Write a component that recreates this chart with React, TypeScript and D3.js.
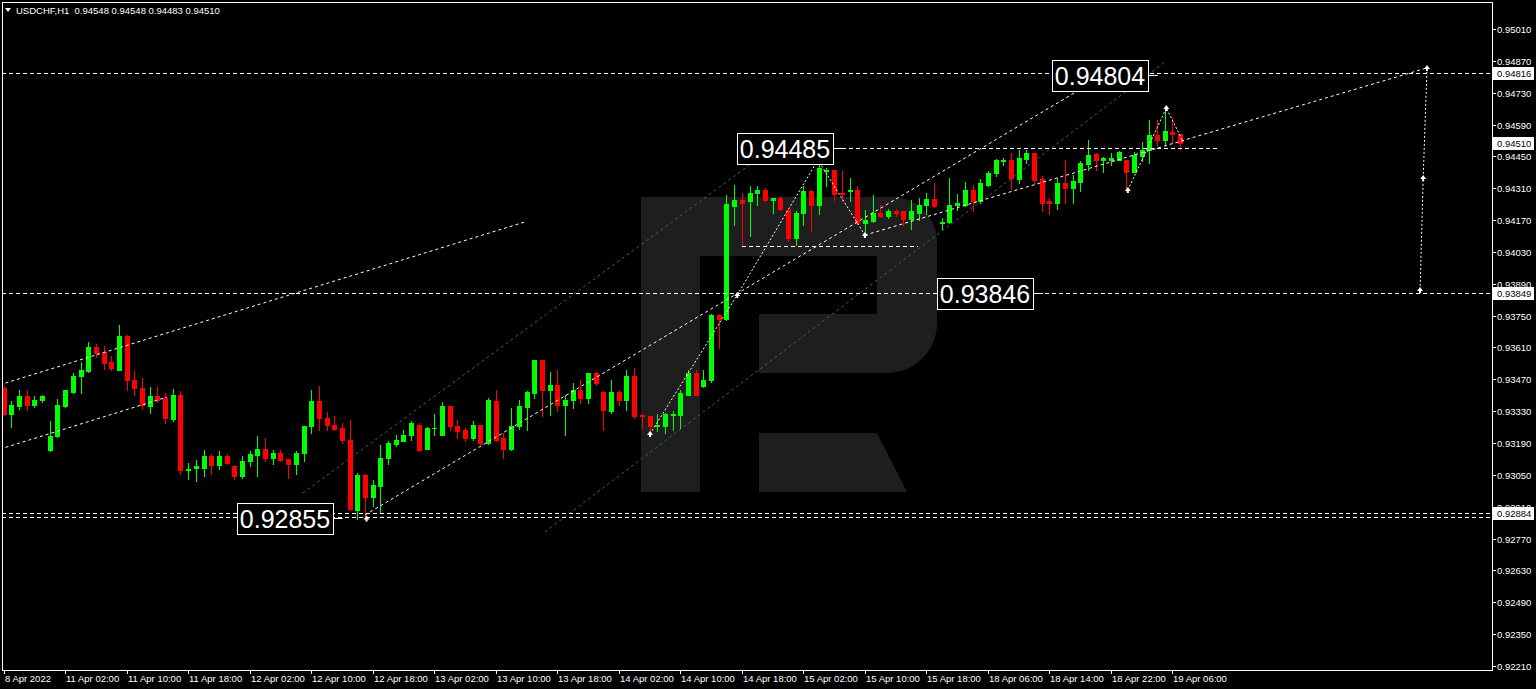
import React from "react";
import * as d3 from "d3";

// ---------- DATA (USDCHF, H1) ----------
const opens = [0.93432,0.93318,0.93355,0.93397,0.93357,0.93379,0.93159,0.93219,0.93353,0.93416,0.93485,0.93507,0.93612,0.93592,0.93548,0.93513,0.93661,0.93469,0.93434,0.93355,0.93399,0.93386,0.93295,0.93403,0.93073,0.93082,0.93082,0.93135,0.93093,0.93131,0.93089,0.93043,0.93109,0.93137,0.93166,0.93126,0.93148,0.93118,0.93100,0.93148,0.93263,0.93375,0.93302,0.93271,0.93254,0.93203,0.92896,0.93049,0.92951,0.93003,0.93126,0.93188,0.93201,0.93225,0.93271,0.93166,0.93255,0.93227,0.93353,0.93265,0.93247,0.93210,0.93269,0.93192,0.93375,0.93214,0.93166,0.93263,0.93350,0.93412,0.93553,0.93421,0.93445,0.93357,0.93379,0.93423,0.93390,0.93496,0.93416,0.93331,0.93416,0.93379,0.93485,0.93315,0.93309,0.93265,0.93265,0.93313,0.93313,0.93403,0.93500,0.93439,0.93465,0.93753,0.93734,0.94232,0.94258,0.94252,0.94289,0.94304,0.94258,0.94269,0.94216,0.94093,0.94201,0.94296,0.94236,0.94388,0.94390,0.94291,0.94296,0.94302,0.94159,0.94164,0.94203,0.94188,0.94208,0.94208,0.94174,0.94203,0.94236,0.94261,0.94158,0.94162,0.94236,0.94236,0.94302,0.94252,0.94324,0.94375,0.94430,0.94432,0.94349,0.94439,0.94463,0.94349,0.94252,0.94243,0.94331,0.94313,0.94339,0.94417,0.94460,0.94434,0.94436,0.94436,0.94432,0.94383,0.94452,0.94478,0.94544,0.94522,0.94558,0.94548];
const highs = [0.93441,0.93375,0.93423,0.93423,0.93397,0.93401,0.93287,0.93383,0.93423,0.93498,0.93548,0.93636,0.93625,0.93617,0.93573,0.93709,0.93665,0.93507,0.93474,0.93436,0.93436,0.93408,0.93427,0.93419,0.93104,0.93115,0.93159,0.93142,0.93155,0.93142,0.93093,0.93131,0.93155,0.93219,0.93214,0.93159,0.93159,0.93122,0.93155,0.93265,0.93423,0.93441,0.93326,0.93311,0.93276,0.93291,0.93060,0.93054,0.93027,0.93181,0.93199,0.93227,0.93249,0.93285,0.93276,0.93260,0.93318,0.93370,0.93355,0.93293,0.93258,0.93285,0.93271,0.93386,0.93421,0.93232,0.93342,0.93381,0.93419,0.93555,0.93555,0.93504,0.93513,0.93401,0.93452,0.93467,0.93498,0.93504,0.93418,0.93469,0.93423,0.93513,0.93522,0.93318,0.93311,0.93318,0.93324,0.93333,0.93423,0.93509,0.93509,0.93513,0.93759,0.93757,0.94280,0.94324,0.94287,0.94318,0.94320,0.94309,0.94269,0.94274,0.94218,0.94208,0.94320,0.94302,0.94432,0.94401,0.94392,0.94387,0.94357,0.94320,0.94214,0.94280,0.94236,0.94218,0.94218,0.94212,0.94258,0.94265,0.94291,0.94331,0.94181,0.94353,0.94284,0.94337,0.94324,0.94349,0.94387,0.94440,0.94441,0.94463,0.94480,0.94478,0.94467,0.94364,0.94269,0.94353,0.94432,0.94368,0.94428,0.94524,0.94467,0.94446,0.94467,0.94475,0.94434,0.94471,0.94513,0.94612,0.94608,0.94656,0.94619,0.94548];
const lows = [0.93313,0.93260,0.93340,0.93335,0.93348,0.93370,0.93155,0.93216,0.93348,0.93410,0.93410,0.93504,0.93570,0.93515,0.93511,0.93509,0.93423,0.93401,0.93340,0.93324,0.93372,0.93276,0.93285,0.93056,0.93032,0.93023,0.93047,0.93052,0.93074,0.93100,0.93034,0.93038,0.93089,0.93043,0.93113,0.93100,0.93109,0.93038,0.93056,0.93109,0.93236,0.93249,0.93247,0.93249,0.93192,0.92896,0.92854,0.92854,0.92913,0.92885,0.93098,0.93178,0.93197,0.93203,0.93155,0.93162,0.93225,0.93225,0.93249,0.93210,0.93201,0.93203,0.93188,0.93188,0.93199,0.93126,0.93159,0.93252,0.93249,0.93386,0.93309,0.93313,0.93333,0.93225,0.93342,0.93364,0.93368,0.93445,0.93249,0.93324,0.93357,0.93337,0.93298,0.93258,0.93232,0.93245,0.93236,0.93249,0.93254,0.93401,0.93401,0.93436,0.93460,0.93606,0.93733,0.94148,0.94054,0.94098,0.94236,0.94256,0.94203,0.94215,0.94076,0.94060,0.94148,0.94124,0.94197,0.94318,0.94258,0.94254,0.94252,0.94155,0.94098,0.94162,0.94185,0.94181,0.94188,0.94148,0.94133,0.94170,0.94197,0.94228,0.94129,0.94159,0.94214,0.94232,0.94212,0.94247,0.94320,0.94366,0.94412,0.94305,0.94335,0.94419,0.94335,0.94208,0.94197,0.94218,0.94247,0.94247,0.94299,0.94392,0.94392,0.94383,0.94412,0.94432,0.94296,0.94381,0.94428,0.94419,0.94494,0.94500,0.94510,0.94483];
const closes = [0.93318,0.93357,0.93399,0.93357,0.93381,0.93399,0.93221,0.93357,0.93421,0.93485,0.93509,0.93612,0.93588,0.93544,0.93518,0.93661,0.93467,0.93434,0.93357,0.93399,0.93379,0.93298,0.93403,0.93071,0.93078,0.93087,0.93135,0.93093,0.93131,0.93104,0.93045,0.93111,0.93142,0.93164,0.93126,0.93148,0.93115,0.93100,0.93148,0.93263,0.93375,0.93298,0.93269,0.93252,0.93203,0.92900,0.93049,0.92951,0.93005,0.93126,0.93192,0.93205,0.93227,0.93276,0.93159,0.93258,0.93258,0.93353,0.93263,0.93245,0.93210,0.93269,0.93192,0.93379,0.93203,0.93166,0.93265,0.93355,0.93416,0.93553,0.93421,0.93445,0.93357,0.93381,0.93423,0.93390,0.93496,0.93452,0.93335,0.93416,0.93379,0.93485,0.93309,0.93310,0.93263,0.93269,0.93318,0.93318,0.93408,0.93496,0.93403,0.93467,0.93753,0.93737,0.94241,0.94258,0.94247,0.94291,0.94304,0.94258,0.94266,0.94219,0.94093,0.94203,0.94296,0.94236,0.94401,0.94392,0.94284,0.94284,0.94302,0.94159,0.94170,0.94203,0.94188,0.94208,0.94201,0.94177,0.94212,0.94236,0.94261,0.94232,0.94163,0.94236,0.94243,0.94302,0.94252,0.94335,0.94375,0.94434,0.94434,0.94357,0.94441,0.94463,0.94346,0.94247,0.94243,0.94331,0.94313,0.94342,0.94419,0.94456,0.94434,0.94441,0.94441,0.94471,0.94381,0.94456,0.94478,0.94544,0.94522,0.94561,0.94548,0.94510];

const timeTickIndex = [0,8,16,24,32,40,48,56,64,72,80,88,96,104,112,120,128,136,144,152];
const timeTickLabels = ["8 Apr 2022","11 Apr 02:00","11 Apr 10:00","11 Apr 18:00","12 Apr 02:00","12 Apr 10:00","12 Apr 18:00","13 Apr 02:00","13 Apr 10:00","13 Apr 18:00","14 Apr 02:00","14 Apr 10:00","14 Apr 18:00","15 Apr 02:00","15 Apr 10:00","15 Apr 18:00","18 Apr 06:00","18 Apr 14:00","18 Apr 22:00","19 Apr 06:00"];
const priceTicks = [0.92210,0.92350,0.92490,0.92630,0.92770,0.92910,0.93050,0.93190,0.93330,0.93470,0.93610,0.93750,0.93890,0.94030,0.94170,0.94310,0.94450,0.94590,0.94730,0.94870,0.95010];
const axisMarks = [0.94816, 0.94510, 0.93849, 0.92884];
const levelLines = [0.94816, 0.93849, 0.92884, 0.92867];

// annotations in (bar index, price)
const shortLevels = [
  { a: 109.0, b: 158.2, p: 0.94485 },
  { a: 96.0, b: 118.9, p: 0.94054 },
];
const trendWhite = [
  [[-0.5, 0.93446], [67.8, 0.94162]],
  [[-0.5, 0.93163], [21.25, 0.93392]],
  [[47.0, 0.92874], [145.8, 0.94861]],
  [[112.0, 0.94104], [185.1, 0.94839]],
];
const trendDim = [
  [[38.9, 0.92970], [102.3, 0.94544]],
  [[70.4, 0.92799], [151.0, 0.94865]],
];
const wave1 = [[84.06, 0.93230], [95.4, 0.93841], [105.9, 0.94434], [112.0, 0.94104]];
const wave2 = [[146.2, 0.94302], [151.2, 0.94663], [153.4, 0.94513]];
const wave3 = [[185.1, 0.94839], [184.6, 0.94355], [184.2, 0.93863]];
const markers = [[47.2, 0.92858], [84.06, 0.93230], [95.4, 0.93841], [105.9, 0.94434], [112.0, 0.94104], [146.2, 0.94302], [151.2, 0.94663], [185.1, 0.94839], [184.6, 0.94355], [184.2, 0.93863]];
const labelBoxes = [
  { i: 44.1, p: 0.92860, t: "0.92855" },
  { i: 109.15, p: 0.94485, t: "0.94485" },
  { i: 135.2, p: 0.93849, t: "0.93846" },
  { i: 150.1, p: 0.94806, t: "0.94804" },
];

const header = "USDCHF,H1  0.94548 0.94548 0.94483 0.94510";

export default function App() {
  const W = 1536, H = 689;
  const L = 2, T = 2, R = 1492, B = 670;
  const x = d3.scaleLinear().domain([0, 153]).range([3.6, 3.6 + 7.69 * 153]);
  const y = d3.scaleLinear().domain([0.92210, 0.95010]).range([666, 29]);
  const font = "'Liberation Sans', Arial, sans-serif";
  const line = d3.line<number[]>().x(d => x(d[0])).y(d => y(d[1]));

  const candles = opens.map((o, i) => {
    const c = closes[i];
    const up = c >= o;
    const col = up ? "#00ff00" : "#ff0000";
    const cx = Math.round(x(i));
    const yt = Math.round(y(Math.max(o, c)));
    const yb = Math.round(y(Math.min(o, c)));
    return (
      <g key={i}>
        <line x1={cx + 0.5} x2={cx + 0.5} y1={Math.round(y(highs[i]))} y2={Math.round(y(lows[i])) + 1} stroke={col} strokeWidth={1} />
        <rect x={cx - 2} y={yt} width={5} height={Math.max(1, yb - yt + 1)} fill={col} />
      </g>
    );
  });

  return (
    <svg width={W} height={H} style={{ display: "block", position: "absolute", left: 0, top: 0, background: "#000" }}>
      <defs>
        <clipPath id="plotclip"><rect x={L} y={T} width={R - L} height={B - T} /></clipPath>
      </defs>
      <rect x={0} y={0} width={W} height={H} fill="#000" />
      <g clipPath="url(#plotclip)">
        {/* watermark */}
        <path d="M641,197 H892 A45,45 0 0 1 937,242 V323 A50,50 0 0 1 887,373 H759 V314 H877 V256 H700 V492 H641 Z" fill="#1e1e1e" />
        <path d="M759,433 H877 L907,492 H759 Z" fill="#1e1e1e" />
        {/* dim trend lines */}
        {trendDim.map((s, k) => (
          <path key={"d" + k} d={line(s) || ""} stroke="#4d5c60" strokeWidth={1} strokeDasharray="3 3" fill="none" />
        ))}
        {/* candles */}
        <g shapeRendering="crispEdges">{candles}</g>
        {/* level lines */}
        {levelLines.map((p, k) => (
          <line key={"l" + k} x1={L} x2={R} y1={Math.round(y(p)) + 0.5} y2={Math.round(y(p)) + 0.5} stroke="#fff" strokeDasharray="4 3" shapeRendering="crispEdges" />
        ))}
        {shortLevels.map((s, k) => (
          <line key={"s" + k} x1={x(s.a)} x2={x(s.b)} y1={Math.round(y(s.p)) + 0.5} y2={Math.round(y(s.p)) + 0.5} stroke="#fff" strokeDasharray="4 3" shapeRendering="crispEdges" />
        ))}
        {trendWhite.map((s, k) => (
          <path key={"w" + k} d={line(s) || ""} stroke="#fff" strokeWidth={1} strokeDasharray="3 3" fill="none" />
        ))}
        {[wave1, wave2, wave3].map((s, k) => (
          <path key={"v" + k} d={line(s) || ""} stroke="#fff" strokeWidth={1} strokeDasharray="2 2" fill="none" />
        ))}
        {markers.map((m, k) => (
          <path key={"m" + k} transform={`translate(${x(m[0])},${y(m[1])})`} d="M0,-3 L3,1 L1,1 L1,3 L-1,3 L-1,1 L-3,1 Z" fill="#fff" />
        ))}
        {/* label boxes */}
        {labelBoxes.map((b, k) => {
          const ax = x(b.i), ay = Math.round(y(b.p));
          return (
            <g key={"b" + k}>
              <line x1={ax - 10} x2={ax} y1={ay + 0.5} y2={ay + 0.5} stroke="#fff" />
              <rect x={Math.round(ax) - 106 + 0.5} y={ay - 15 + 0.5} width={96} height={31} fill="#000" stroke="#fff" strokeWidth={1} />
              <text x={Math.round(ax) - 58} y={ay + 10} fill="#fff" fontFamily={font} fontSize={25} textAnchor="middle">{b.t}</text>
            </g>
          );
        })}
      </g>
      {/* frame */}
      <rect x={L + 0.5} y={T + 0.5} width={R - L} height={B - T} fill="none" stroke="#fff" strokeWidth={1} shapeRendering="crispEdges" />
      {/* header */}
      <path d="M5,8 L11,8 L8,12 Z" fill="#fff" />
      <text x={16} y={13.5} fill="#fff" fontFamily={font} fontSize={9.5} style={{ whiteSpace: "pre" }}>{header}</text>
      {/* price axis */}
      {priceTicks.map((p, k) => {
        const yy = Math.round(y(p));
        return (
          <g key={"pt" + k}>
            <line x1={R} x2={R + 4} y1={yy + 0.5} y2={yy + 0.5} stroke="#fff" shapeRendering="crispEdges" />
            <text x={R + 5} y={yy + 3.5} fill="#fff" fontFamily={font} fontSize={9.5}>{p.toFixed(5)}</text>
          </g>
        );
      })}
      {axisMarks.map((p, k) => {
        const yy = Math.round(y(p));
        return (
          <g key={"am" + k}>
            <rect x={R + 1} y={yy - 6} width={41} height={13} fill="#fff" />
            <text x={R + 5} y={yy + 4} fill="#000" fontFamily={font} fontSize={9.5}>{p.toFixed(5)}</text>
          </g>
        );
      })}
      {/* time axis */}
      {timeTickIndex.map((idx, k) => {
        const xx = Math.round(x(idx));
        return (
          <g key={"tt" + k}>
            <line x1={xx + 0.5} x2={xx + 0.5} y1={B} y2={B + 4} stroke="#fff" shapeRendering="crispEdges" />
            <text x={xx + 1} y={682} fill="#fff" fontFamily={font} fontSize={9.5}>{timeTickLabels[k]}</text>
          </g>
        );
      })}
    </svg>
  );
}
